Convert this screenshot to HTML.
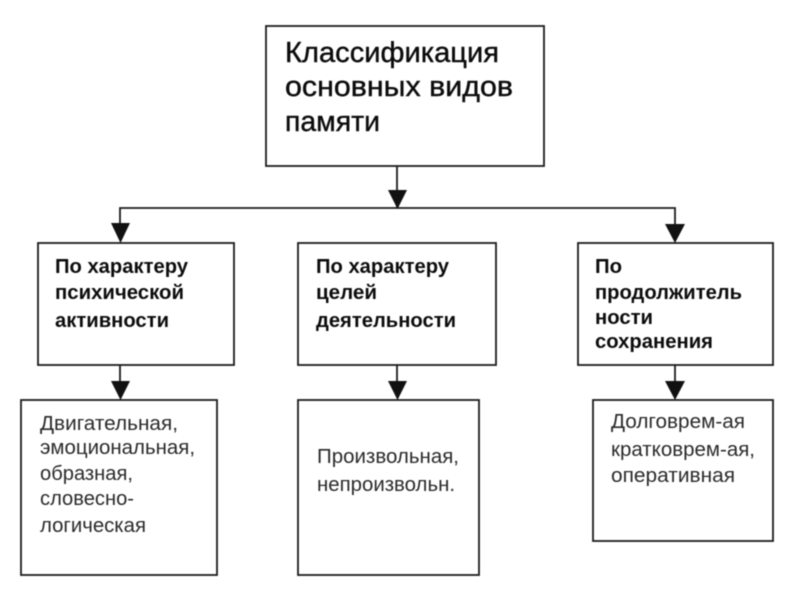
<!DOCTYPE html>
<html><head><meta charset="utf-8"><style>
html,body{margin:0;padding:0;background:#fff;width:800px;height:600px;overflow:hidden}
svg{display:block;filter:blur(.5px)}
text{font-family:"Liberation Sans",Arial,sans-serif;fill:#111}
.t{font-size:29px;fill:#0c0c0c;stroke:#0c0c0c;stroke-width:.4px}
.b{font-size:20px;font-weight:bold;fill:#0c0c0c}
.r{font-size:20px;fill:#2a2a2a}
rect,path.l{fill:none;stroke:#1c1c1c;stroke-width:1.8}
path.h{fill:#111}
</style></head><body>
<svg width="800" height="600" viewBox="0 0 800 600" xmlns="http://www.w3.org/2000/svg">
<rect x="266" y="26" width="278" height="140"/>
<rect x="38" y="243" width="196" height="122"/>
<rect x="298" y="243" width="198" height="122"/>
<rect x="578" y="243" width="195" height="122"/>
<rect x="21" y="400" width="196" height="175"/>
<rect x="298" y="400" width="181" height="175"/>
<rect x="593" y="400" width="180" height="141"/>
<path class="l" d="M397 166V208M120 226V208H675V226M120 365V385M397 365V385M675 365V385"/>
<path class="h" d="M388 190H407L397.500 209ZM111 223H130L120.500 243ZM665 224H685L675 243ZM111 381H130L120.500 400ZM388 381H407L397.500 400ZM665 381H685L675 400Z"/>
<text class="t" x="285" y="62" textLength="214" lengthAdjust="spacingAndGlyphs">Классификация</text>
<text class="t" x="285" y="96" textLength="228" lengthAdjust="spacingAndGlyphs">основных видов</text>
<text class="t" x="285" y="131" textLength="95" lengthAdjust="spacingAndGlyphs">памяти</text>
<text class="b" x="55" y="273" textLength="133" lengthAdjust="spacingAndGlyphs">По характеру</text>
<text class="b" x="55" y="299" textLength="129" lengthAdjust="spacingAndGlyphs">психической</text>
<text class="b" x="55" y="327" textLength="114" lengthAdjust="spacingAndGlyphs">активности</text>
<text class="b" x="316" y="273" textLength="133" lengthAdjust="spacingAndGlyphs">По характеру</text>
<text class="b" x="316" y="299" textLength="61" lengthAdjust="spacingAndGlyphs">целей</text>
<text class="b" x="316" y="327" textLength="140" lengthAdjust="spacingAndGlyphs">деятельности</text>
<text class="b" x="595" y="273" textLength="27" lengthAdjust="spacingAndGlyphs">По</text>
<text class="b" x="595" y="299" textLength="147" lengthAdjust="spacingAndGlyphs">продолжитель</text>
<text class="b" x="595" y="324" textLength="58" lengthAdjust="spacingAndGlyphs">ности</text>
<text class="b" x="595" y="348" textLength="118" lengthAdjust="spacingAndGlyphs">сохранения</text>
<text class="r" x="40" y="430" textLength="138" lengthAdjust="spacingAndGlyphs">Двигательная,</text>
<text class="r" x="40" y="454" textLength="155" lengthAdjust="spacingAndGlyphs">эмоциональная,</text>
<text class="r" x="40" y="480" textLength="93" lengthAdjust="spacingAndGlyphs">образная,</text>
<text class="r" x="40" y="505" textLength="94" lengthAdjust="spacingAndGlyphs">словесно-</text>
<text class="r" x="40" y="532" textLength="106" lengthAdjust="spacingAndGlyphs">логическая</text>
<text class="r" x="317" y="463" textLength="142" lengthAdjust="spacingAndGlyphs">Произвольная,</text>
<text class="r" x="317" y="491" textLength="138" lengthAdjust="spacingAndGlyphs">непроизвольн.</text>
<text class="r" x="611" y="428" textLength="134" lengthAdjust="spacingAndGlyphs">Долговрем-ая</text>
<text class="r" x="611" y="456" textLength="144" lengthAdjust="spacingAndGlyphs">кратковрем-ая,</text>
<text class="r" x="611" y="482" textLength="124" lengthAdjust="spacingAndGlyphs">оперативная</text>
</svg>
</body></html>
